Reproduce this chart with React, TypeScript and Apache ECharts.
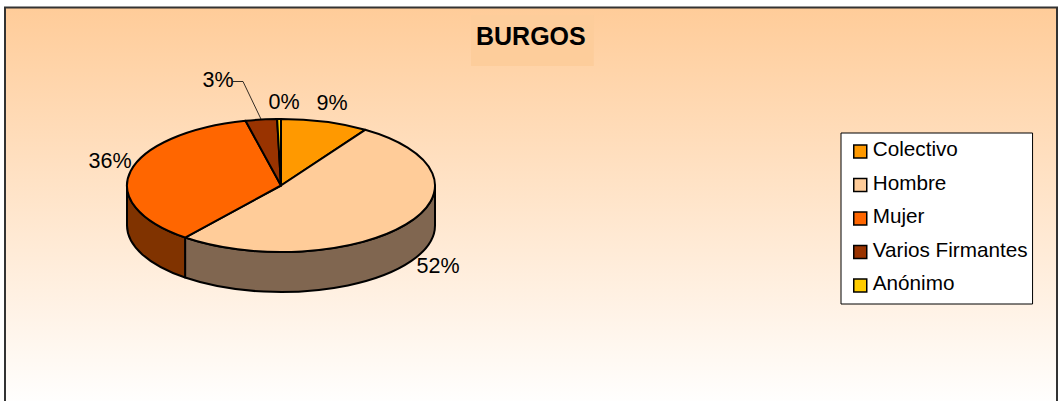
import React, { useEffect, useRef } from "react";
import * as echarts from "echarts";

const categories = ["Colectivo", "Hombre", "Mujer", "Varios Firmantes", "Anónimo"];
const values = [9.2, 51.5, 35.6, 3.3, 0.4];
const percentLabels = ["9%", "52%", "36%", "3%", "0%"];
const topColors = ["#FF9900", "#FFCC99", "#FF6600", "#993300", "#FFCC00"];
const sideColors = ["#804D00", "#806650", "#803300", "#4D1A00", "#806600"];
const labelCenters: number[][] = [[332, 103], [438, 266], [110, 161], [218, 80], [284, 102]];

const CX = 281, CY = 185.5, RX = 154, RY = 66.5, DEPTH = 40;
const FONT = "Liberation Sans, Arial, sans-serif";

const pt = (deg: number, dy = 0) => {
  const a = (deg * Math.PI) / 180;
  return [CX + RX * Math.sin(a), CY - RY * Math.cos(a) + dy];
};

const total = values.reduce((s, v) => s + v, 0);
const startAngle = (i: number) => (values.slice(0, i).reduce((s, v) => s + v, 0) / total) * 360;

function topPath(a0: number, a1: number) {
  const p0 = pt(a0), p1 = pt(a1);
  const large = a1 - a0 > 180 ? 1 : 0;
  return `M${CX} ${CY}L${p0[0]} ${p0[1]}A${RX} ${RY} 0 ${large} 1 ${p1[0]} ${p1[1]}Z`;
}

function sidePath(a0: number, a1: number) {
  const s = Math.max(a0, 90), e = Math.min(a1, 270);
  if (e <= s) return null;
  const p0 = pt(s), p1 = pt(e), q1 = pt(e, DEPTH), q0 = pt(s, DEPTH);
  return `M${p0[0]} ${p0[1]}A${RX} ${RY} 0 0 1 ${p1[0]} ${p1[1]}L${q1[0]} ${q1[1]}A${RX} ${RY} 0 0 0 ${q0[0]} ${q0[1]}Z`;
}

const lineStyle = { stroke: "#000", lineWidth: 2, lineJoin: "round" };

function sliceSeries(i: number) {
  return {
    type: "custom",
    name: categories[i],
    coordinateSystem: "none",
    silent: true,
    z: 5 + (i === 4 ? 1 : 0),
    itemStyle: { color: topColors[i], borderColor: "#000", borderWidth: 1.5 },
    data: [values[i]],
    renderItem: () => {
      const a0 = startAngle(i);
      const a1 = startAngle(i + 1);
      const children: any[] = [];
      const side = sidePath(a0, a1);
      if (side) {
        children.push({
          type: "path",
          shape: { pathData: side },
          style: { fill: sideColors[i], ...lineStyle },
        });
      }
      children.push({
        type: "path",
        shape: { pathData: topPath(a0, a1) },
        style: { fill: topColors[i], ...lineStyle },
      });
      const [lx, ly] = labelCenters[i];
      if (i === 3) {
        const m = pt((a0 + a1) / 2);
        children.push({
          type: "polyline",
          shape: { points: [[lx + 15, ly + 1.5], [lx + 25, ly + 1.5], m] },
          style: { fill: "none", stroke: "#000", lineWidth: 0.8 },
        });
      }
      children.push({
        type: "text",
        x: lx,
        y: ly,
        style: {
          text: percentLabels[i],
          fill: "#000",
          font: `21.5px ${FONT}`,
          align: "center",
          verticalAlign: "middle",
        },
      });
      return { type: "group", children };
    },
  };
}

export default function App() {
  const ref = useRef<HTMLDivElement>(null);
  useEffect(() => {
    document.body.style.margin = "0";
    const chart = echarts.init(ref.current!, undefined, { renderer: "svg" });
    chart.setOption({
      animation: false,
      backgroundColor: "#fff",
      title: {
        text: "BURGOS",
        left: 471,
        top: 15,
        padding: [8, 8, 18, 5],
        backgroundColor: "#FDCD9B",
        textStyle: { fontFamily: FONT, fontWeight: "bold", fontSize: 25, color: "#000" },
      },
      legend: {
        orient: "vertical",
        left: 841,
        top: 133,
        padding: [4, 5, 10, 12],
        backgroundColor: "#fff",
        borderColor: "#000",
        borderWidth: 1,
        itemWidth: 13,
        itemHeight: 19,
        itemGap: 10.5,
        icon: "path://M0 -6L0 -6M0 0L13 0L13 13L0 13Z",
        selectedMode: false,
        data: categories,
        textStyle: { fontFamily: FONT, fontSize: 20.7, color: "#000", padding: [0, 0, 0, 1], lineHeight: 23 },
        itemStyle: { borderColor: "#000", borderWidth: 1.5 },
      },
      graphic: [
        {
          type: "rect",
          z: -10,
          shape: { x: 5, y: 7.5, width: 1052, height: 400 },
          style: {
            stroke: "#333",
            lineWidth: 2,
            fill: {
              type: "linear", x: 0, y: 0, x2: 0, y2: 1,
              colorStops: [
                { offset: 0, color: "#FFCC99" },
                { offset: 1, color: "#FFFFFF" },
              ],
            },
          },
        },
      ],
      series: categories.map((_, i) => sliceSeries(i)),
    });
    return () => chart.dispose();
  }, []);
  return <div ref={ref} style={{ width: 1058, height: 401 }} />;
}
